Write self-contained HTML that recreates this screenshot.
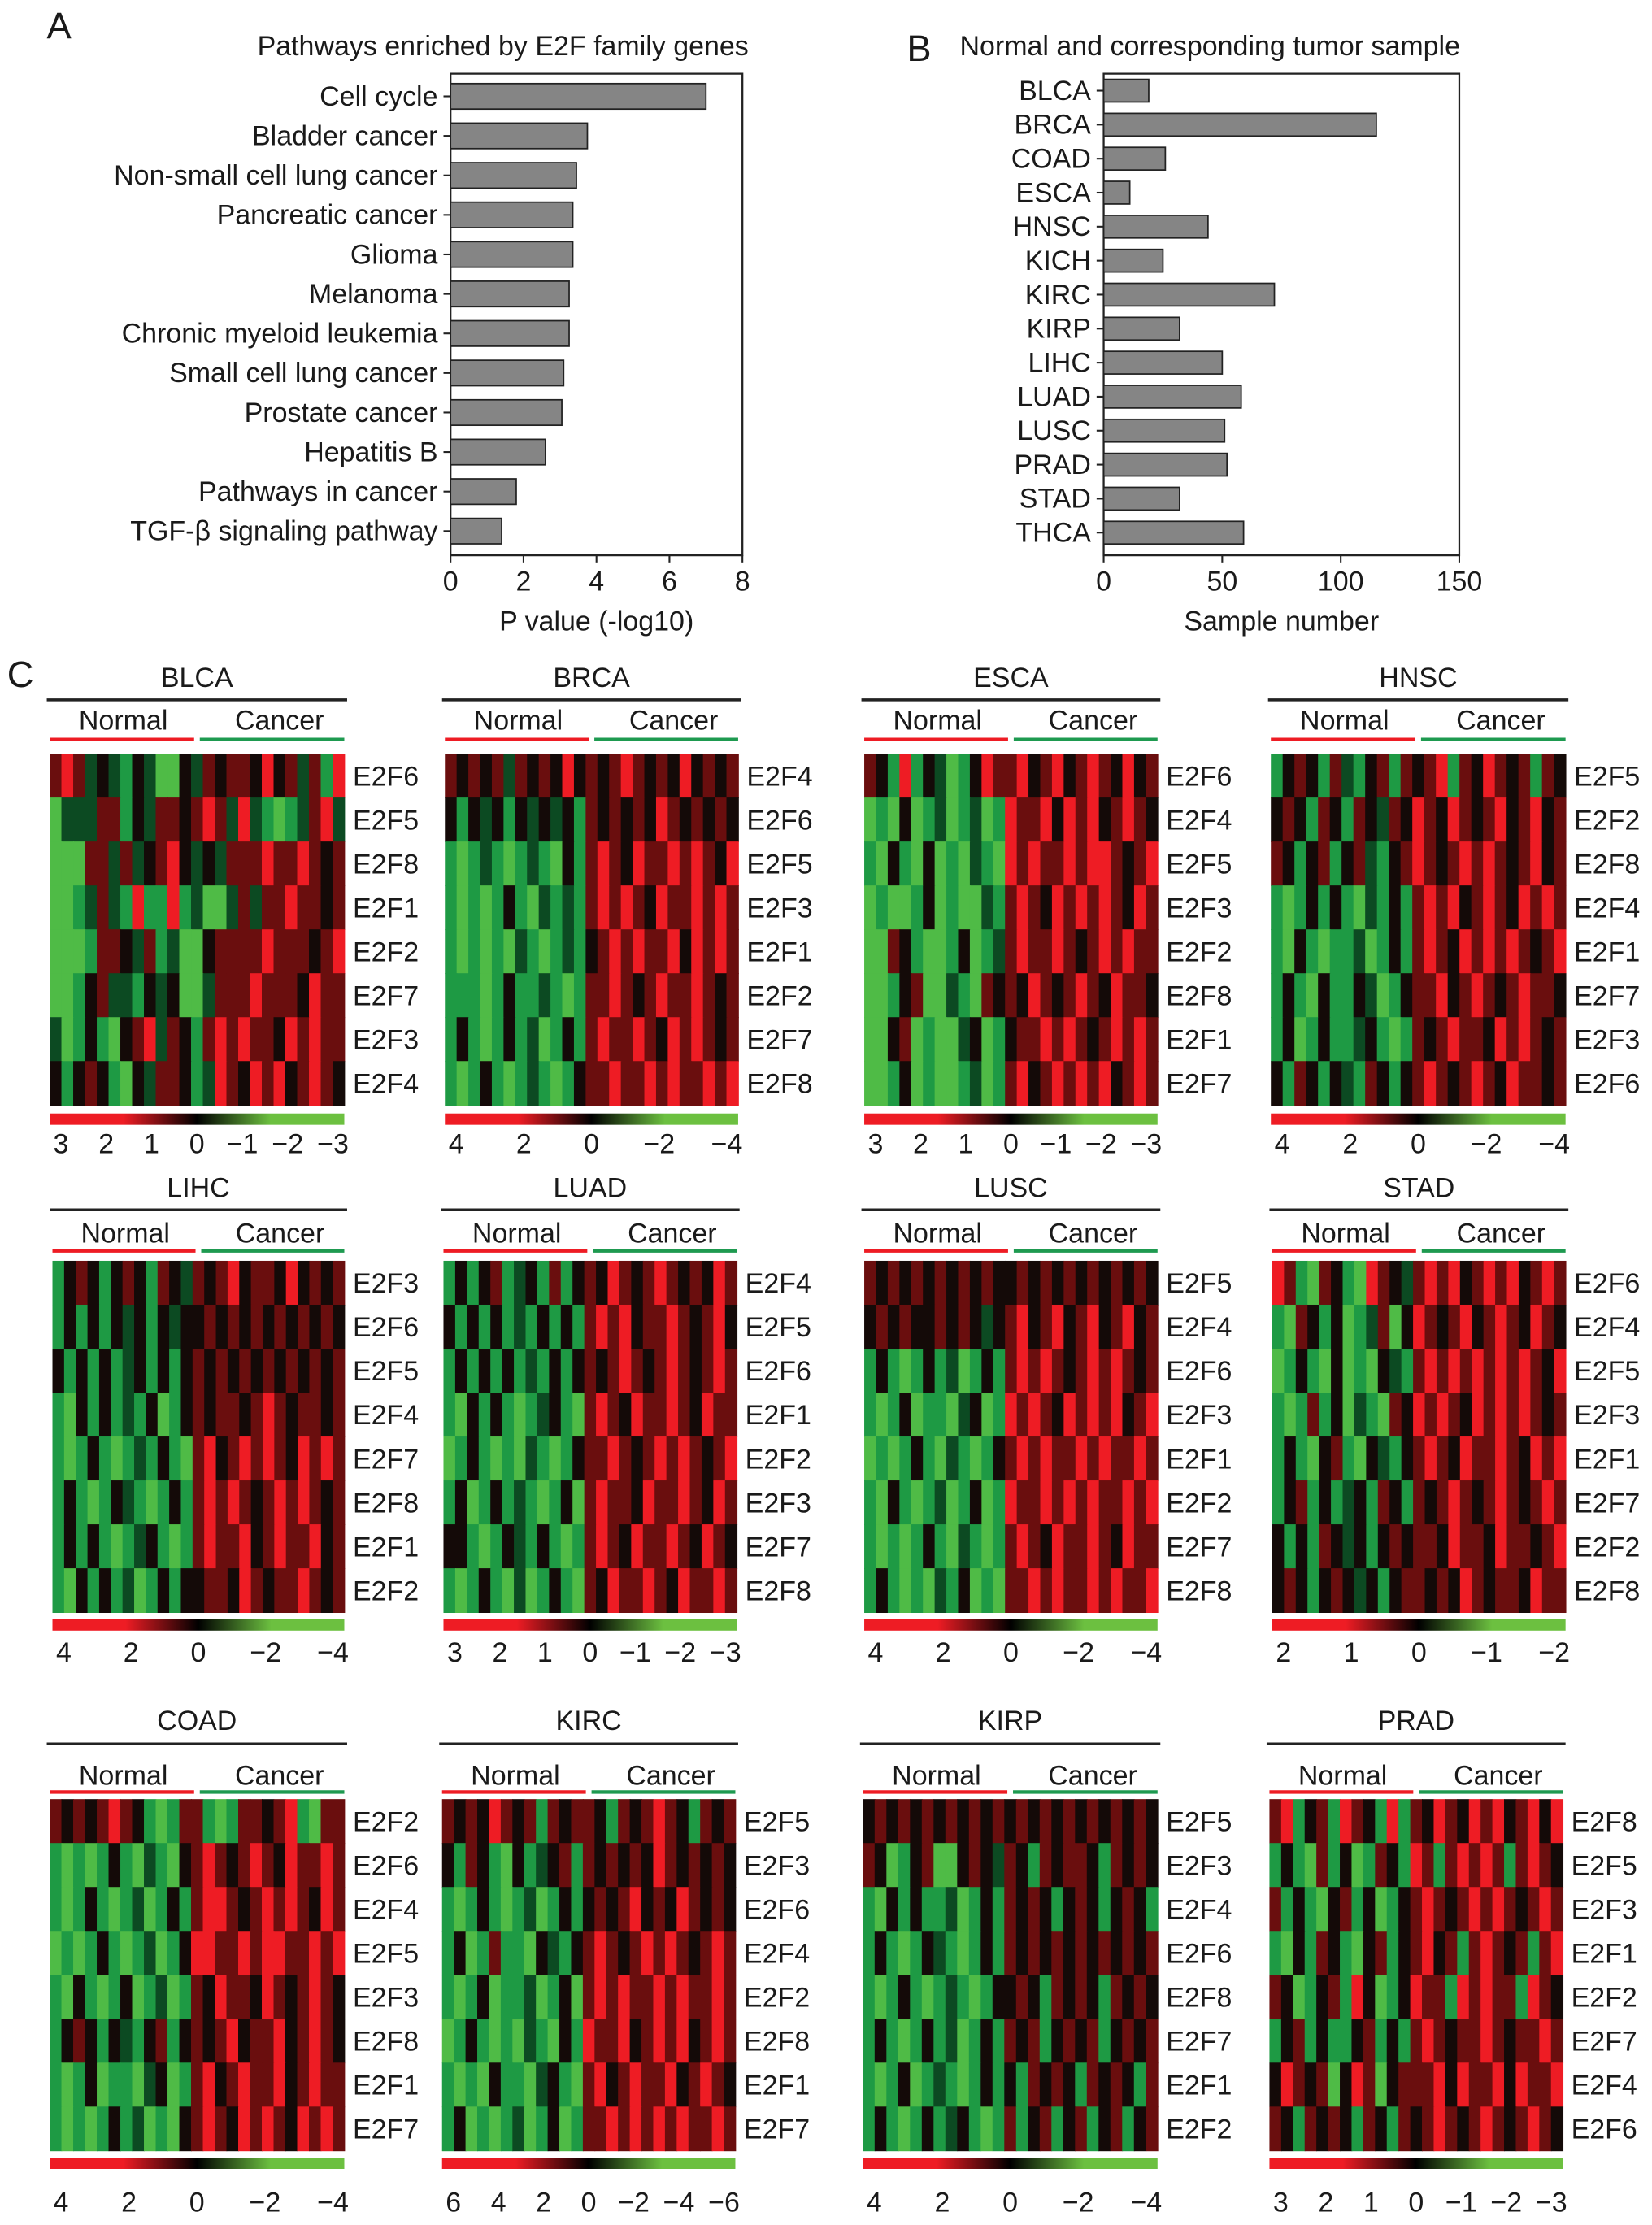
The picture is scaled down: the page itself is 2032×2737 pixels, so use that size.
<!DOCTYPE html>
<html><head><meta charset="utf-8"><style>
html,body{margin:0;padding:0;background:#fff}
svg{display:block}
text{font-family:"Liberation Sans",sans-serif;fill:#1a1a1a}
</style></head><body>
<svg id="fig" width="2032" height="2737" viewBox="0 0 1166 1570.6" xmlns="http://www.w3.org/2000/svg">
<text x="33" y="27" font-size="26">A</text>
<text x="640" y="43" font-size="26">B</text>
<text x="5" y="485" font-size="26">C</text>
<text x="355" y="39" font-size="19.5" text-anchor="middle">Pathways enriched by E2F family genes</text>
<text x="854" y="39" font-size="19.5" text-anchor="middle">Normal and corresponding tumor sample</text>
<g id="ga"></g><g id="gb"></g><g id="gc"></g>
</svg>
<script>
const NS="http://www.w3.org/2000/svg";
const FS=19.5;
function mk(p,t,a,txt){const e=document.createElementNS(NS,t);for(const k in a)e.setAttribute(k,a[k]);if(txt!==undefined)e.textContent=txt;p.appendChild(e);return e;}

const pathCats=["Cell cycle","Bladder cancer","Non-small cell lung cancer","Pancreatic cancer","Glioma","Melanoma","Chronic myeloid leukemia","Small cell lung cancer","Prostate cancer","Hepatitis B","Pathways in cancer","TGF-β signaling pathway"];
const pathVals=[7.0,3.75,3.45,3.35,3.35,3.25,3.25,3.1,3.05,2.6,1.8,1.4];
const pathTicks=[0,2,4,6,8];
const sampCats=["BLCA","BRCA","COAD","ESCA","HNSC","KICH","KIRC","KIRP","LIHC","LUAD","LUSC","PRAD","STAD","THCA"];
const sampVals=[19,115,26,11,44,25,72,32,50,58,51,52,32,59];
const sampTicks=[0,50,100,150];

function barPanel(g,cats,vals,ticks,x0,x1,max,y0,y1,rowStart,rowStep,bh,xlabel,prefix){
  const sx=v=>x0+(x1-x0)*v/max;
  const fr=mk(g,'rect',{x:x0,y:y0,width:x1-x0,height:y1-y0,fill:'none',stroke:'#222','stroke-width':1.3});
  
  
  cats.forEach((c,i)=>{
    const y=rowStart+i*rowStep;
    const b=mk(g,'rect',{x:x0,y:y-bh/2,width:sx(vals[i])-x0,height:bh,fill:'#858585',stroke:'#222','stroke-width':1});
    
    
    mk(g,'line',{x1:x0-5,x2:x0,y1:y,y2:y,stroke:'#222','stroke-width':1.2});
    const t=mk(g,'text',{x:x0-9,y:y+6.5,'font-size':FS,'text-anchor':'end'},c);
    
    
  });
  ticks.forEach(v=>{
    const x=sx(v);
    mk(g,'line',{x1:x,x2:x,y1:y1,y2:y1+5,stroke:'#222','stroke-width':1.2});
    const t=mk(g,'text',{x:x,y:y1+25,'font-size':FS,'text-anchor':'middle'},String(v));
    
    
  });
  const xl=mk(g,'text',{x:(x0+x1)/2,y:y1+53,'font-size':FS,'text-anchor':'middle'},xlabel);
  
  
}
barPanel(document.getElementById('ga'),pathCats,pathVals,pathTicks,318,524,8,52,392,68,27.9,18,'P value (-log10)','pathway');
barPanel(document.getElementById('gb'),sampCats,sampVals,sampTicks,779,1030,150,52,392,64,24,16,'Sample number','sample');

const hmNames=["BLCA","BRCA","ESCA","HNSC","LIHC","LUAD","LUSC","STAD","COAD","KIRC","KIRP","PRAD"];
const hmGenes=[
["E2F6","E2F5","E2F8","E2F1","E2F2","E2F7","E2F3","E2F4"],
["E2F4","E2F6","E2F5","E2F3","E2F1","E2F2","E2F7","E2F8"],
["E2F6","E2F4","E2F5","E2F3","E2F2","E2F8","E2F1","E2F7"],
["E2F5","E2F2","E2F8","E2F4","E2F1","E2F7","E2F3","E2F6"],
["E2F3","E2F6","E2F5","E2F4","E2F7","E2F8","E2F1","E2F2"],
["E2F4","E2F5","E2F6","E2F1","E2F2","E2F3","E2F7","E2F8"],
["E2F5","E2F4","E2F6","E2F3","E2F1","E2F2","E2F7","E2F8"],
["E2F6","E2F4","E2F5","E2F3","E2F1","E2F7","E2F2","E2F8"],
["E2F2","E2F6","E2F4","E2F5","E2F3","E2F8","E2F1","E2F7"],
["E2F5","E2F3","E2F6","E2F4","E2F2","E2F8","E2F1","E2F7"],
["E2F5","E2F3","E2F4","E2F6","E2F8","E2F7","E2F1","E2F2"],
["E2F8","E2F5","E2F3","E2F1","E2F2","E2F7","E2F4","E2F6"]];
const hmCells=[
["rRrdkdgkdGGkdrkrrkRkrdrgR","GdddrrgkdrrkrRrdRdgGgdrRd","GGGrrdrdkrRkdkdrrrRrrRrkr","GGgdrdgRggRgdGGdrdrrRrrkr","GGGgrrkdrgdGGkrrrrRrrrkrR","GGgkrddgkdkGGdrrrRrrrkRrr","dGgkgGkrRdrkgrRrRrrkRrRrr","kgkrkgGkdrrkgdRrkRrRkrRrk"],
["rkrkrdrkrkRkrkrRrkrkRkrkr","kgkdkgkdkdkgrkrkrkRrkrkrk","gGgdgGgdgGkgrRrkRrrRrRrkR","gGgGgkgGdgdgrRrRrkRrrRrRr","gGgGgGdgGgdgkrRrRrrRkRrRr","gggGgkggdgGgrrRrkrRrrRrkr","gkgGgkgdGgkgrRrrRrkRrRrkr","gGgkgGgdgGgkrrRrrRrRrrRrR"],
["rkgRgkdGgkRrrRkrRkrRrkRkr","GgGkGgdGgdGgRrrRkRrRkrRrk","gGkgGkGgGdgGRrRrrRrRRrkrR","GgGGgkGgGGdgrRrkRrRrRrkRr","GGrkgGGgkGgdrRrrRrkrRrRrr","GGgkrGGdgGrkrkRrkrRrkRrrk","GGkrGgGGdkGgkrrRrRrkrRrRr","GGgkGgGGgdGgrRkrRrRrRkrRr"],
["gkrkgrdgkrgrkrRgrkRrkrgrk","krkgrkgrkdrkRrkRrkrRkrRkr","rkgkrgkrdgkrRrkrRrRrkrRkr","gGgkgkgGdgkgrRrRkrRrkRrRr","gGkgGggdGgkgrRrkRrRrRrkrR","gkgGkggkdGgkrrRkrRrkrRrrk","gkGgkggdkgGgrkrRrrkRrRrkr","kgrkgkdgrkgkrRrkrRrkRrrkr"],
["gkrkgkrkgrkdrkrRkrrkRkrkr","gkgkgkdkgkdkkrkrkrkrkrkrk","kgkgkgdkgkgkrkrkrkrkrkrkr","gGkgkgdgkGgkrkrrkrRrkrrkr","gGgkgGgdgkgGrRkrRrRrkRrRr","gkgGgkdgGgkgrRrRrkrRrRrkr","gkgkgGgdkgGgrRrrRkrRrrRkr","gGkgkgdGgkgkkrrkRrkrrRrkr"],
["gkgkrgdkgrgkrkRrkrRrkrkRr","kgkgkgdgkgkgrRrRkrrRrkrRk","gkgkgkgdgkgkrkrRrkrRrkrRr","gGkgkgGgdkgGrRrkRrrRrkRrr","GgkgGgGdgGgkrrRrkrRrRrkrR","gkGgkgdgGgkGrRrrkRrrRrkRr","kkgGgkdgkgGgrRrkRrrRrkRrk","gGgkgGdGgkgGrkRrrRrkRrrRr"],
["rkrkrkrkrkrkkrkrkrkrkrkrk","krkrkkrkrkdkrRkrRkrRkrRkr","gkgGgkgdGgkgrRrRrkrRrRrkr","gGgkGggGdkGgRrRrkRrRrRkrR","GgGgkgGdgGgkrRrRrrRrRrrRr","gGkgGgdGgkGgRrrRrRrRrrRrR","gGgGgkgGdgGgrRrkRrrRrkRrr","gkgGgGdgkGgGrrRrRrrRrRrrR"],
["RrgGrkgGRrkdrRrRkrRrRkrRr","gGrkgkGgdrGkRrkrRkrRrkRrk","GgkgGkGgGkdgrRrRrRrRrRrkR","gGgrgkGdgGrkRrRrkRrRrRrkr","gkgGkrgGkdgkrRrkRrrRrkRrR","gkrgkgdkgrkgrkrRrkrRrkrRr","kgkgrkdkgkrkrrkRrrkRrrkrR","krkgkrkdkgkrrkrkRrkrrkRrr"],
["rkrkrRrkgGgrrgGgrrkrRgGrr","gGgGgkgGdgGkrRrkrRrkRrrRr","gGgkgGgdGgkgrRRrkrRrRrkRr","GgGgkgGgdGgkRRrrRrRRrrRrR","gGkgGgkGgdGgrkRrrkRrkrRrk","gkrkgkdgkrgkrkrRkrrRkrRrk","gGgkGggGdkGgrRkrRrrRkrRrr","gGgGgkgdGgGkrRrkRrRrkRrRr"],
["rkrkRrkrgrkrrkgrkrRrkgrkr","kgrkgGkgdkrgrkrkrkRrkrkrk","gGgkgGgdGgkgkrkrRkrkRrkrk","gkGgrggGkdgkrRrkrRrRrkrRr","gGgkGggdGgkGrRrRrrRrRrrRr","GgkgGgGdgGkgRrrRkrRrRkrRr","gGgGkggGdkgGrRkrRrrRkrRrk","gkGgGgdGgkGgrrRrRrRrRrrRr"],
["krkrkrkrkrkrkrkrkrkrkrkrk","rkGgkrGGkrkdrkgrkrrkgrkrk","gGkgkggdGgkgrkrkgkrkgkrkg","gkgGgkdgGgkgrkrkrkrkrkrkr","gGgkgGgdgGgkkrkgrkrkgrkrk","gkgGgkgdGgkgrkrgkrkrgkrkr","gGgkGgdgGgkgkgrkrkgrkrkgr","gkgGgkgdkgGgrgkrgkrgkrgkr"],
["rRgkrgRrkgRgrkRrkRrRkrRkR","gkgGrgkGgrkgRrgrRrRrgrRrk","rgkgGkrgkGgkrRrkrRrRrkrRr","gGkgrkgGkrgkrRkrgrRrkrgrR","rkGgkrgRkGgkRrrgRrRrrgRrk","gkrgkggkrgkgrRrkrrRrkrrRr","kRrkrGkRrGkrrrRkRrrRkRrrR","rkgrkrkgrkgrkrRrkrRrkrRrk"]];
const hmTicks=[["3","2","1","0","−1","−2","−3"],["4","2","0","−2","−4"],["3","2","1","0","−1","−2","−3"],["4","2","0","−2","−4"],["4","2","0","−2","−4"],["3","2","1","0","−1","−2","−3"],["4","2","0","−2","−4"],["2","1","0","−1","−2"],["4","2","0","−2","−4"],["6","4","2","0","−2","−4","−6"],["4","2","0","−2","−4"],["3","2","1","0","−1","−2","−3"]];

const colX=[[35,243],[314,521],[610,817],[897,1105],[37,243],[313,520],[610,817],[898,1105],[35,243],[312,519],[609,817],[896,1103]];
const rowY=[{t:485,line:494,lab:515,cl:522,h0:532,cb:786,tk:814},{t:845,line:854,lab:877,cl:883,h0:890,cb:1143,tk:1173},{t:1221,line:1231,lab:1260,cl:1265,h0:1270,cb:1523,tk:1561}];
const col={G:'#4fbb46',g:'#1e9a44',d:'#0c4a22',k:'#140a08',r:'#6a0e0e',R:'#ee1c24'};
const gc=document.getElementById('gc');
const defs=mk(gc,'defs',{});
const lg=mk(defs,'linearGradient',{id:'cbar',x1:0,x2:1,y1:0,y2:0});
[['0','#ee1c24'],['0.25','#ee1c24'],['0.5','#000'],['0.75','#6cc040'],['1','#6cc040']].forEach(s=>mk(lg,'stop',{offset:s[0],'stop-color':s[1]}));

hmNames.forEach((nm,p)=>{
  const [x0,x1]=colX[p]; const R=rowY[Math.floor(p/4)];
  const g=mk(gc,'g',{});
  
  
  const w=x1-x0, mid=x0+w/2, hh=248;
  const t=mk(g,'text',{x:mid,y:R.t,'font-size':FS,'text-anchor':'middle'},nm);
  
  
  mk(g,'line',{x1:x0-2,x2:x1+2,y1:R.line,y2:R.line,stroke:'#222','stroke-width':2});
  const n=mk(g,'text',{x:x0+w*0.25,y:R.lab,'font-size':FS,'text-anchor':'middle'},'Normal');
  
  
  const c=mk(g,'text',{x:x0+w*0.78,y:R.lab,'font-size':FS,'text-anchor':'middle'},'Cancer');
  
  
  mk(g,'line',{x1:x0,x2:mid-2,y1:R.cl,y2:R.cl,stroke:'#ee1c24','stroke-width':2.5});
  mk(g,'line',{x1:mid+2,x2:x1,y1:R.cl,y2:R.cl,stroke:'#1e9a50','stroke-width':2.5});
  const rows=hmCells[p], rh=hh/rows.length;
  rows.forEach((s,i)=>{
    const cw=w/s.length;
    for(let j=0;j<s.length;j++){
      const cell=mk(g,'rect',{x:x0+j*cw,y:R.h0+i*rh,width:cw+0.5,height:rh+0.5,fill:col[s[j]]});
      
      
    }
    const gl=mk(g,'text',{x:x1+6,y:R.h0+i*rh+rh/2+7,'font-size':FS},hmGenes[p][i]);
    
    
  });
  const cb=mk(g,'rect',{x:x0,y:R.cb,width:w,height:8,fill:'url(#cbar)'});
  
  
  const tk=hmTicks[p], m=tk.length;
  tk.forEach((v,k)=>{
    const x=x0+8+(w-16)*k/(m-1);
    const tt=mk(g,'text',{x:x,y:R.tk,'font-size':FS,'text-anchor':'middle'},v);
    
    
  });
});
</script>
</body></html>
